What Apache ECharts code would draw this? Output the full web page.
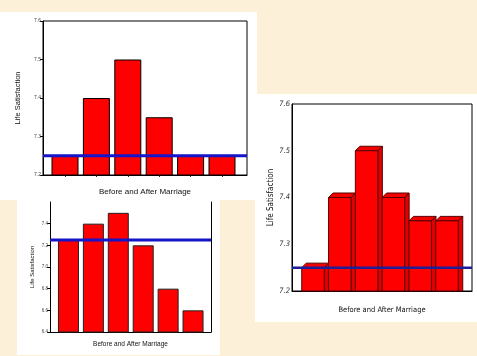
<!DOCTYPE html>
<html>
<head>
<meta charset="utf-8">
<script src="https://cdn.jsdelivr.net/npm/echarts@6/dist/echarts.min.js"></script>
<style>
  html, body { margin: 0; padding: 0; background: #FDF0D8; }
  #chart { width: 477px; height: 356px; }
</style>
</head>
<body>
<div id="chart"></div>
<script>
// ---- Data ----
const categories = ['1', '2', '3', '4', '5', '6'];
const topLeftValues = [7.25, 7.40, 7.50, 7.35, 7.25, 7.25];
const bottomLeftValues = [7.25, 7.40, 7.50, 7.20, 6.80, 6.60];
const rightValues = [7.25, 7.40, 7.50, 7.40, 7.35, 7.35];
const referenceLevel = 7.25;
const topLeftTicks = [7.2, 7.3, 7.4, 7.5, 7.6];
const bottomLeftTicks = [6.4, 6.6, 6.8, 7.0, 7.2, 7.4, 7.6];
const rightTicks = [7.2, 7.3, 7.4, 7.5, 7.6];
const yTitle = 'Life Satisfaction';
const xTitle = 'Before and After Marriage';

const chart = echarts.init(document.getElementById('chart'), null, { renderer: 'canvas' });

function rng(t) { return { min: t[0], max: t[t.length - 1], interval: +(t[1] - t[0]).toFixed(4) }; }
const tl = rng(topLeftTicks), bl = rng(bottomLeftTicks), rr = rng(rightTicks);
const fmt = v => v.toFixed(1);
const narrow = '"Liberation Sans Narrow", "DejaVu Sans Condensed", "Liberation Sans", sans-serif';
const sans = '"Liberation Sans", Arial, sans-serif';

const option = {
  backgroundColor: '#FDF0D8',
  animation: false,
  graphic: [
    { type: 'rect', z: -100, shape: { x: 0, y: 12, width: 257, height: 188 }, style: { fill: '#ffffff' } },
    { type: 'rect', z: -100, shape: { x: 17, y: 200, width: 203, height: 155 }, style: { fill: '#ffffff' } },
    { type: 'rect', z: -100, shape: { x: 255, y: 94, width: 222, height: 228 }, style: { fill: '#ffffff' } }
  ],
  grid: [
    { left: 43, top: 21, width: 204, height: 154, show: true, borderColor: '#000', borderWidth: 1 },
    { left: 49.3, top: 21, width: 188.4, height: 154 },
    { left: 50, top: 202, width: 161, height: 130 },
    { left: 56, top: 202, width: 149.5, height: 130 },
    { left: 292, top: 104, width: 180, height: 187, show: true, borderColor: '#000', borderWidth: 1 },
    { left: 299.6, top: 104, width: 160.8, height: 187 }
  ],
  xAxis: [
    { gridIndex: 0, type: 'value', min: 0, max: 1, axisLabel: { show: false }, axisTick: { show: false }, splitLine: { show: false },
      axisLine: { show: true, lineStyle: { color: '#000', width: 1 } },
      name: xTitle, nameLocation: 'middle', nameGap: 13,
      nameTextStyle: { fontFamily: sans, fontSize: 8, color: '#111' } },
    { gridIndex: 1, type: 'category', data: categories, axisLine: { show: false }, axisLabel: { show: false },
      axisTick: { show: true, alignWithLabel: true, length: 2, lineStyle: { color: '#333' } } },
    { gridIndex: 2, type: 'value', min: 0, max: 1, axisLabel: { show: false }, axisTick: { show: false }, splitLine: { show: false },
      axisLine: { show: true, lineStyle: { color: '#000', width: 1 } },
      name: xTitle, nameLocation: 'middle', nameGap: 9,
      nameTextStyle: { fontFamily: sans, fontSize: 6.5, color: '#111' } },
    { gridIndex: 3, type: 'category', data: categories, axisLine: { show: false }, axisLabel: { show: false }, axisTick: { show: false } },
    { gridIndex: 4, type: 'value', min: 0, max: 1, axisLabel: { show: false }, axisTick: { show: false }, splitLine: { show: false },
      axisLine: { show: true, lineStyle: { color: '#000', width: 1 } },
      name: xTitle, nameLocation: 'middle', nameGap: 15,
      nameTextStyle: { fontFamily: narrow, fontSize: 7.5, color: '#111' } },
    { gridIndex: 5, type: 'category', data: categories, axisLine: { show: false }, axisLabel: { show: false }, axisTick: { show: false } }
  ],
  yAxis: [
    { gridIndex: 0, type: 'value', min: tl.min, max: tl.max, interval: tl.interval, splitLine: { show: false },
      axisLine: { show: true, lineStyle: { color: '#000', width: 1 } },
      axisTick: { show: true, length: 3, lineStyle: { color: '#000' } },
      axisLabel: { formatter: fmt, fontSize: 5, color: '#444', margin: 2, fontFamily: sans },
      name: yTitle, nameLocation: 'middle', nameGap: 21,
      nameTextStyle: { fontFamily: sans, fontSize: 7.5, color: '#111' } },
    { gridIndex: 1, type: 'value', min: tl.min, max: tl.max, show: false },
    { gridIndex: 2, type: 'value', min: bl.min, max: bl.max, interval: bl.interval, splitLine: { show: false },
      axisLine: { show: true, lineStyle: { color: '#000', width: 1 } },
      axisTick: { show: true, length: 3, lineStyle: { color: '#000' } },
      axisLabel: { formatter: fmt, fontSize: 4.5, color: '#444', margin: 2, showMaxLabel: false, fontFamily: sans },
      name: yTitle, nameLocation: 'middle', nameGap: 15,
      nameTextStyle: { fontFamily: sans, fontSize: 6, color: '#111' } },
    { gridIndex: 2, type: 'value', position: 'right', min: bl.min, max: bl.max, splitLine: { show: false },
      axisLine: { show: true, lineStyle: { color: '#000', width: 1 } }, axisTick: { show: false }, axisLabel: { show: false } },
    { gridIndex: 3, type: 'value', min: bl.min, max: bl.max, show: false },
    { gridIndex: 4, type: 'value', min: rr.min, max: rr.max, interval: rr.interval, splitLine: { show: false },
      axisLine: { show: true, lineStyle: { color: '#000', width: 1 } },
      axisTick: { show: false },
      axisLabel: { formatter: fmt, fontSize: 7.5, color: '#333', margin: 2, fontFamily: narrow, fontStyle: 'italic' },
      name: yTitle, nameLocation: 'middle', nameGap: 15,
      nameTextStyle: { fontFamily: narrow, fontSize: 8, color: '#111' } },
    { gridIndex: 5, type: 'value', min: rr.min, max: rr.max, show: false }
  ],
  series: [
    { type: 'bar', xAxisIndex: 1, yAxisIndex: 1, data: topLeftValues, barWidth: 27, z: 3,
      itemStyle: { color: '#FF0000', borderColor: '#000', borderWidth: 1 } },
    { type: 'line', xAxisIndex: 0, yAxisIndex: 0, data: [[0, referenceLevel], [1, referenceLevel]], symbol: 'none', z: 10,
      lineStyle: { color: '#1414C8', width: 3 } },
    { type: 'bar', xAxisIndex: 3, yAxisIndex: 4, data: bottomLeftValues, barWidth: 21, z: 3,
      itemStyle: { color: '#FF0000', borderColor: '#222', borderWidth: 1 } },
    { type: 'line', xAxisIndex: 2, yAxisIndex: 2, data: [[0, referenceLevel], [1, referenceLevel]], symbol: 'none', z: 10,
      lineStyle: { color: '#1414C8', width: 3 } },
    { type: 'custom', xAxisIndex: 5, yAxisIndex: 6, z: 3,
      data: rightValues.map((v, i) => [i, v]),
      renderItem: function (params, api) {
        const top = api.coord([api.value(0), api.value(1)]);
        const base = api.coord([api.value(0), rr.min]);
        const w = api.size([1, 0])[0] * 0.84;
        const d = 4.5;
        const x0 = top[0] - w / 2, yT = top[1], yB = base[1];
        const stroke = '#5a0000';
        return {
          type: 'group',
          children: [
            { type: 'polygon', shape: { points: [[x0 + w, yT], [x0 + w + d, yT - d], [x0 + w + d, yB], [x0 + w, yB]] },
              style: { fill: '#E00000', stroke: stroke, lineWidth: 1 } },
            { type: 'polygon', shape: { points: [[x0, yT], [x0 + d, yT - d], [x0 + w + d, yT - d], [x0 + w, yT]] },
              style: { fill: '#F00000', stroke: stroke, lineWidth: 1 } },
            { type: 'rect', shape: { x: x0, y: yT, width: w, height: yB - yT },
              style: { fill: '#FF0000', stroke: stroke, lineWidth: 1 } }
          ]
        };
      } },
    { type: 'line', xAxisIndex: 4, yAxisIndex: 5, data: [[0, referenceLevel], [1, referenceLevel]], symbol: 'none', z: 10,
      lineStyle: { color: '#1E1E9A', width: 2.5 } }
  ]
};
chart.setOption(option);
</script>
</body>
</html>
